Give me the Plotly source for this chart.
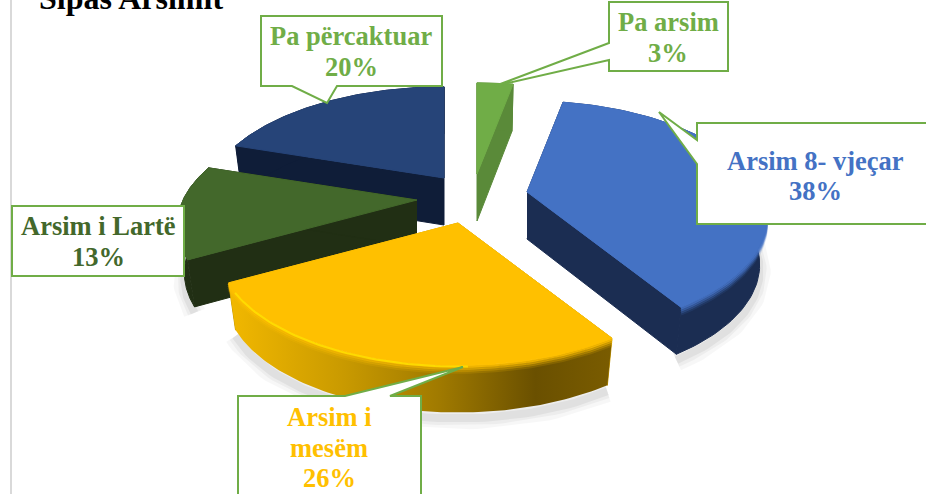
import numpy as np
import plotly.graph_objects as go

LABELS = ["Pa arsim", "Arsim 8- vjeçar", "Arsim i mesëm", "Arsim i Lartë", "Pa përcaktuar"]
VALUES = [3, 38, 26, 13, 20]
TITLE = "Sipas Arsimit"

TOP_COLORS = ["#70AD47", "#4472C4", "#FFC000", "#43682B", "#264478"]
SIDE_COLORS = ["#5A8A39", "#1B2D52", "#C89800", "#212F14", "#0F1D38"]
TEXT_COLORS = ["#70AD47", "#4472C4", "#FFC000", "#43682B", "#70AD47"]
# exploded apex position of each slice, in chart pixels
APEX = [(477, 174), (527, 192), (458, 223), (417, 200), (444, 178)]
DRAW_ORDER = [0, 4, 3, 1, 2]

W, H = 926, 494
R, PERSP, TILT, DEPTH, TAPER = 234, 0.22, 0.475, 47, 0.97
BORDER = "#70AD47"


def project(theta_deg, ax, ay):
    t = np.radians(theta_deg)
    x, y = np.sin(t), np.cos(t)
    s = R / (1 + PERSP * y)
    return ax + x * s, ay - y * TILT * s


total = sum(VALUES)
stops = np.cumsum([0] + VALUES) / total * 360
fig = go.Figure()


def poly(xs, ys, color, **kw):
    fig.add_trace(go.Scatter(x=xs, y=ys, mode="lines", fill="toself", fillcolor=color,
                             line=dict(color=color, width=1), hoverinfo="skip",
                             showlegend=False, **kw))


def stroke(xs, ys, color, width):
    fig.add_trace(go.Scatter(x=xs, y=ys, mode="lines", line=dict(color=color, width=width),
                             hoverinfo="skip", showlegend=False))


# soft shadows below the lower rims
for i in [3, 1, 2]:
    ax, ay = APEX[i]
    th = np.linspace(max(stops[i], 90), min(stops[i + 1], 270), 60)
    ax_, ay_ = project(th, ax, ay)
    for w, a in [(22, 0.03), (14, 0.04), (8, 0.05)]:
        stroke(ax + (ax_ - ax) * TAPER, ay_ + DEPTH + 6, f"rgba(0,0,0,{a})", w)

for i in DRAW_ORDER:
    ax, ay = APEX[i]
    a0, a1 = stops[i], stops[i + 1]
    th = np.linspace(a0, a1, 90)
    px, py = project(th, ax, ay)
    lx = ax + (px - ax) * TAPER  # lower rim, slightly narrower
    # straight cut faces
    for k in (0, -1):
        poly([ax, px[k], lx[k], ax], [ay, py[k], py[k] + DEPTH, ay + DEPTH], SIDE_COLORS[i])
    # outer rim face
    xs = np.r_[px, lx[::-1]]
    ys = np.r_[py, py[::-1] + DEPTH]
    if i == 2:
        fig.add_trace(go.Scatter(
            x=xs, y=ys, mode="lines", fill="toself", line=dict(width=0), hoverinfo="skip",
            showlegend=False,
            fillgradient=dict(type="horizontal", colorscale=[
                [0, "#F2B800"], [0.3, "#C99A00"], [0.55, "#A07A00"],
                [0.8, "#6A5000"], [1, "#7A5C00"]])))
    else:
        poly(xs, ys, SIDE_COLORS[i])
    # bevel along the rim
    if i in (1, 2):
        rgb = {1: "68,114,196", 2: "255,192,0"}[i]
        for off, alpha in [(7, 0.15), (5, 0.35), (3, 0.6), (1, 0.85)]:
            stroke(px, py + off, f"rgba({rgb},{alpha})", 2.5)
    # top face
    poly(np.r_[ax, px, ax], np.r_[ay, py, ay], TOP_COLORS[i])
    if i == 2:
        mask = (th > 178) & (th < 238)
        stroke(px[mask], py[mask] + 1, "rgba(255,226,0,0.8)", 2)

# callout boxes
CALLOUTS = [
    "M609,2 H728 V71 H609 V60 L495,86 L609,43 Z",
    "M697,123 H940 V224 H697 V164 L659,112 L697,140 Z",
    "M238,396 H345 L463,367 L390,396 H421 V510 H238 Z",
    "M12,206 H184 V276 H12 Z",
    "M261,16 H442 V86 H337 L327,103 L292,86 H261 Z",
]
shapes = [dict(type="line", xref="x", yref="y", x0=11, x1=11, y0=0, y1=H,
               line=dict(color="#D9D9D9", width=2), layer="below")]
for path in CALLOUTS:
    shapes.append(dict(type="path", path=path, xref="x", yref="y", fillcolor="white",
                       line=dict(color=BORDER, width=2), layer="above"))

LABEL_X = [668, 815, 329, 98, 351]
LABEL_Y = [[22, 53], [161, 191], [417, 448, 478], [226, 257], [36, 67]]
LABEL_LINES = [[LABELS[0]], [LABELS[1]], ["Arsim i", "mesëm"], [LABELS[3]], [LABELS[4]]]
annotations = []
for i in range(5):
    lines = LABEL_LINES[i] + [f"{VALUES[i]}%"]
    for line, y in zip(lines, LABEL_Y[i]):
        annotations.append(dict(
            x=LABEL_X[i], y=y, xref="x", yref="y", showarrow=False,
            text=f"<b>{line}</b>", align="center",
            font=dict(family="Liberation Serif", size=26.5, color=TEXT_COLORS[i])))
annotations.append(dict(x=39, y=18, xref="x", yref="y", xanchor="left", yanchor="bottom",
                        showarrow=False, text=f"<b>{TITLE}</b>", xshift=-2,
                        font=dict(family="Liberation Serif", size=32, color="black")))

fig.update_layout(
    width=W, height=H, margin=dict(l=0, r=0, t=0, b=0),
    paper_bgcolor="white", plot_bgcolor="white", showlegend=False,
    xaxis=dict(range=[0, W], visible=False, fixedrange=True),
    yaxis=dict(range=[H, 0], visible=False, fixedrange=True),
    shapes=shapes, annotations=annotations)
fig.write_html("out.html", config=dict(displayModeBar=False),
               post_script="document.body.style.margin='0';document.body.style.overflow='hidden';")
